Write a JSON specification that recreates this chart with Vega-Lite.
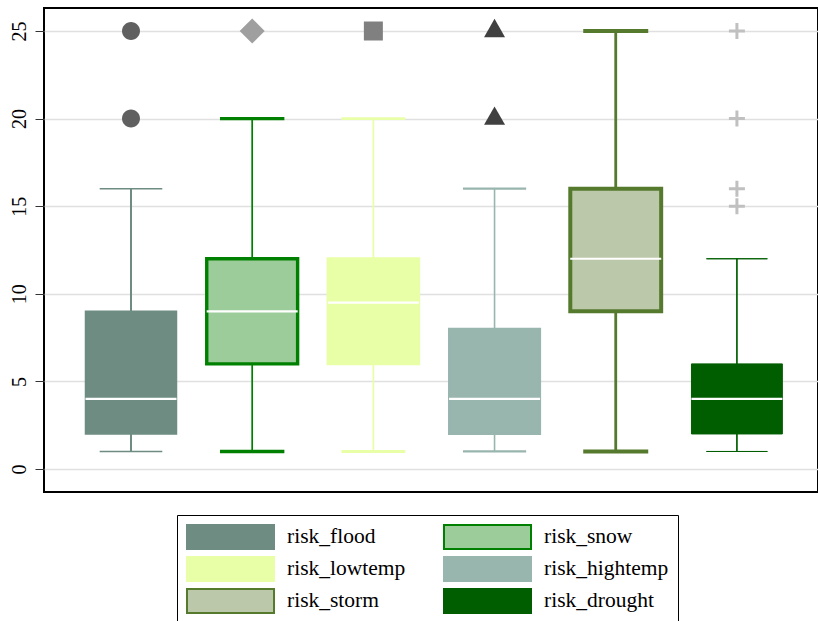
{
  "$schema": "https://vega.github.io/schema/vega-lite/v6.json",
  "width": 774,
  "height": 484,
  "autosize": {"type": "none"},
  "padding": {"left": 44, "top": 8, "right": 0, "bottom": 129},
  "background": "white",
  "config": {
    "view": {"stroke": "black", "strokeWidth": 2},
    "font": "Liberation Serif",
    "axisY": {
      "grid": true, "gridColor": "#e0e0e0", "gridWidth": 1.5,
      "domain": false, "tickColor": "#333333", "tickSize": 9, "tickWidth": 1,
      "labelAngle": -90, "labelAlign": "center", "labelBaseline": "alphabetic",
      "labelPadding": 10, "labelFont": "Liberation Serif", "labelFontSize": 20,
      "labelColor": "black"
    }
  },
  "datasets": {
    "boxes": [
      {"var": "risk_flood", "lower": 1, "q1": 2, "median": 4, "q3": 9, "upper": 16},
      {"var": "risk_snow", "lower": 1, "q1": 6, "median": 9, "q3": 12, "upper": 20},
      {"var": "risk_lowtemp", "lower": 1, "q1": 6, "median": 9.5, "q3": 12, "upper": 20},
      {"var": "risk_hightemp", "lower": 1, "q1": 2, "median": 4, "q3": 8, "upper": 16},
      {"var": "risk_storm", "lower": 1, "q1": 9, "median": 12, "q3": 16, "upper": 25},
      {"var": "risk_drought", "lower": 1, "q1": 2, "median": 4, "q3": 6, "upper": 12}
    ],
    "outliers": [
      {"var": "risk_flood", "value": 20},
      {"var": "risk_flood", "value": 25},
      {"var": "risk_snow", "value": 25},
      {"var": "risk_lowtemp", "value": 25},
      {"var": "risk_hightemp", "value": 20},
      {"var": "risk_hightemp", "value": 25},
      {"var": "risk_drought", "value": 15},
      {"var": "risk_drought", "value": 16},
      {"var": "risk_drought", "value": 20},
      {"var": "risk_drought", "value": 25}
    ]
  },
  "encoding": {
    "x": {
      "field": "var", "type": "nominal", "axis": null,
      "sort": ["risk_flood", "risk_snow", "risk_lowtemp", "risk_hightemp", "risk_storm", "risk_drought"],
      "scale": {
        "domain": ["risk_flood", "risk_snow", "risk_lowtemp", "risk_hightemp", "risk_storm", "risk_drought"],
        "paddingInner": 0, "paddingOuter": 0.1935, "align": 0.563
      }
    }
  },
  "layer": [
    {
      "data": {"name": "boxes"},
      "mark": {"type": "rule", "opacity": 1},
      "encoding": {
        "y": {
          "field": "lower", "type": "quantitative", "title": null,
          "scale": {"domain": [-1.313, 26.313], "nice": false, "zero": false},
          "axis": {"values": [0, 5, 10, 15, 20, 25], "title": null}
        },
        "y2": {"field": "upper"},
        "stroke": {
          "field": "var", "type": "nominal",
          "scale": {
            "domain": ["risk_flood", "risk_snow", "risk_lowtemp", "risk_hightemp", "risk_storm", "risk_drought"],
            "range": ["#6e8c82", "#008000", "#e8ffa8", "#98b5ae", "#557a2e", "#005e00"]
          },
          "legend": {
            "title": null, "orient": "none", "legendX": 133, "legendY": 507, "columns": 2, "direction": "horizontal",
            "symbolType": "M-1,-1H6.25V1H-1Z", "symbolSize": 576, "symbolStrokeWidth": 2,
            "labelOffset": 75, "columnPadding": 34, "rowPadding": 0, "padding": 9,
            "strokeColor": "black", "fillColor": "white", "labelFont": "Liberation Serif",
            "labelFontSize": 21.5, "labelColor": "black", "labelLimit": 0, "symbolOpacity": 1
          }
        },
        "strokeWidth": {
          "field": "var", "type": "ordinal", "legend": null,
          "scale": {
            "type": "ordinal",
            "domain": ["risk_flood", "risk_snow", "risk_lowtemp", "risk_hightemp", "risk_storm", "risk_drought"],
            "range": [2, 1.7, 1.7, 1.6, 2.8, 1.7]
          }
        }
      }
    },
    {
      "data": {"name": "boxes"},
      "mark": {"type": "bar", "width": {"band": 0.75}, "opacity": 1},
      "encoding": {
        "y": {"field": "q1", "type": "quantitative", "title": null},
        "y2": {"field": "q3"},
        "fill": {
          "field": "var", "type": "nominal",
          "scale": {
            "domain": ["risk_flood", "risk_snow", "risk_lowtemp", "risk_hightemp", "risk_storm", "risk_drought"],
            "range": ["#6e8c82", "#9ccc9a", "#e8ffa8", "#98b5ae", "#bcc8aa", "#005e00"]
          },
          "legend": {
            "title": null, "orient": "none", "legendX": 133, "legendY": 507, "columns": 2, "direction": "horizontal",
            "symbolType": "M-1,-1H6.25V1H-1Z", "symbolSize": 576, "symbolStrokeWidth": 2,
            "labelOffset": 75, "columnPadding": 34, "rowPadding": 0, "padding": 9,
            "strokeColor": "black", "fillColor": "white", "labelFont": "Liberation Serif",
            "labelFontSize": 21.5, "labelColor": "black", "labelLimit": 0, "symbolOpacity": 1
          }
        },
        "stroke": {"field": "var", "type": "nominal"},
        "strokeWidth": {"field": "var", "type": "ordinal", "legend": null}
      }
    },
    {
      "data": {"name": "boxes"},
      "mark": {"type": "tick", "filled": false, "size": 61, "thickness": 0.01, "opacity": 1},
      "encoding": {
        "y": {"field": "lower", "type": "quantitative", "title": null},
        "stroke": {"field": "var", "type": "nominal"},
        "strokeWidth": {"field": "var", "type": "ordinal", "legend": null}
      }
    },
    {
      "data": {"name": "boxes"},
      "mark": {"type": "tick", "filled": false, "size": 61, "thickness": 0.01, "opacity": 1},
      "encoding": {
        "y": {"field": "upper", "type": "quantitative", "title": null},
        "stroke": {"field": "var", "type": "nominal"},
        "strokeWidth": {"field": "var", "type": "ordinal", "legend": null}
      }
    },
    {
      "data": {"name": "boxes"},
      "mark": {"type": "tick", "color": "white", "size": 91, "thickness": 2.2, "opacity": 1},
      "encoding": {
        "y": {"field": "median", "type": "quantitative", "title": null}
      }
    },
    {
      "data": {"name": "outliers"},
      "transform": [{"filter": "datum.var == 'risk_flood'"}],
      "mark": {"type": "point", "filled": true, "size": 400, "opacity": 1, "strokeWidth": 0, "color": "#606060",
               "shape": "M-0.9,0A0.9,0.9,0,1,0,0.9,0A0.9,0.9,0,1,0,-0.9,0Z"},
      "encoding": {"y": {"field": "value", "type": "quantitative", "title": null}}
    },
    {
      "data": {"name": "outliers"},
      "transform": [{"filter": "datum.var == 'risk_snow'"}],
      "mark": {"type": "point", "filled": true, "size": 400, "opacity": 1, "strokeWidth": 0, "color": "#9f9f9f",
               "shape": "M0,-1.25L1.25,0L0,1.25L-1.25,0Z"},
      "encoding": {"y": {"field": "value", "type": "quantitative", "title": null}}
    },
    {
      "data": {"name": "outliers"},
      "transform": [{"filter": "datum.var == 'risk_lowtemp'"}],
      "mark": {"type": "point", "filled": true, "size": 400, "opacity": 1, "strokeWidth": 0, "color": "#808080",
               "shape": "M-0.95,-0.95H0.95V0.95H-0.95Z"},
      "encoding": {"y": {"field": "value", "type": "quantitative", "title": null}}
    },
    {
      "data": {"name": "outliers"},
      "transform": [{"filter": "datum.var == 'risk_hightemp'"}],
      "mark": {"type": "point", "filled": true, "size": 400, "opacity": 1, "strokeWidth": 0, "color": "#404040",
               "shape": "M0,-1.22L1.05,0.62L-1.05,0.62Z"},
      "encoding": {"y": {"field": "value", "type": "quantitative", "title": null}}
    },
    {
      "data": {"name": "outliers"},
      "transform": [{"filter": "datum.var == 'risk_drought'"}],
      "mark": {"type": "point", "filled": true, "size": 400, "opacity": 1, "strokeWidth": 0, "color": "#c0c0c0",
               "shape": "M-0.8,-0.15H-0.15V-0.8H0.15V-0.15H0.8V0.15H0.15V0.8H-0.15V0.15H-0.8Z"},
      "encoding": {"y": {"field": "value", "type": "quantitative", "title": null}}
    }
  ]
}
